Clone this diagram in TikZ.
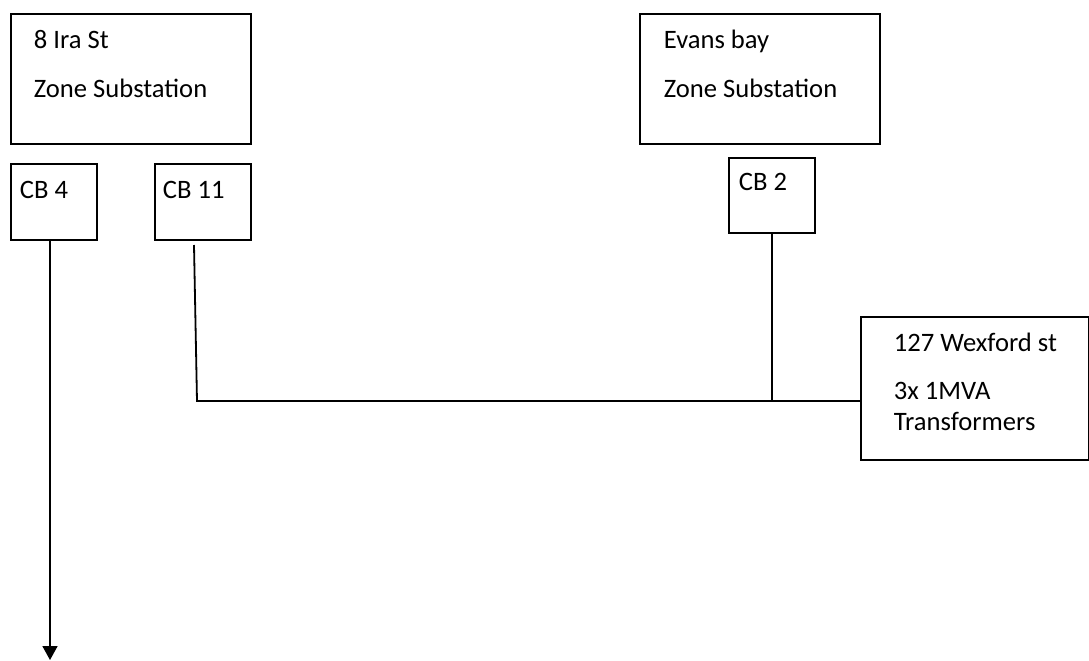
\documentclass[tikz,border=0pt]{standalone}
\usepackage{fontspec}
\setmainfont{Carlito}
\usetikzlibrary{arrows.meta}
\begin{document}
\begin{tikzpicture}[x=0.5pt,y=-0.5pt,line width=0.9pt,
		box/.style={rectangle,draw,anchor=north west,inner sep=0pt},
		lbl/.style={anchor=base west,inner sep=0pt,font=\fontsize{13.3}{15}\selectfont}]
		\useasboundingbox (0,0) rectangle (1089,660);
		% substations
		\node [box,minimum width=120pt,minimum height=65pt] (ira) at (10,13) {};
		\node [lbl] (iraa) at (33,48) {8 Ira St};
		\node [lbl] (irab) at (33,97) {Zone Substation};
		\node [box,minimum width=120pt,minimum height=65pt] (evans) at (639,13) {};
		\node [lbl] (evansa) at (663,48) {Evans bay};
		\node [lbl] (evansb) at (663,97) {Zone Substation};
		% breakers
		\node [box,minimum width=43pt,minimum height=38pt] (cbfour) at (10,163) {};
		\node [lbl] (cbfourl) at (19,198) {CB 4};
		\node [box,minimum width=48pt,minimum height=38pt] (cbeleven) at (154,163) {};
		\node [lbl] (cbelevenl) at (162,198) {CB 11};
		\node [box,minimum width=43pt,minimum height=37.5pt] (cbtwo) at (728,157) {};
		\node [lbl] (cbtwol) at (738,190) {CB 2};
		% load
		\node [box,minimum width=114pt,minimum height=71.5pt] (wex) at (860,316) {};
		\node [lbl] (wexa) at (893,351) {127 Wexford st};
		\node [lbl] (wexb) at (893,399) {3x 1MVA};
		\node [lbl] (wexc) at (893,430) {Transformers};
		% feeders
		\coordinate (feed) at (50,660);
		\coordinate (tail) at (194,245);
		\coordinate (bend) at (197,401);
		\draw [-{Triangle[width=7.5pt,length=7pt]}] (cbfour.south -| feed) -- (feed);
		\draw (tail) -- (bend) -- (bend -| wex.west);
		\draw (cbtwo.south) -- (cbtwo.south |- bend);
	\end{tikzpicture}
\end{document}
